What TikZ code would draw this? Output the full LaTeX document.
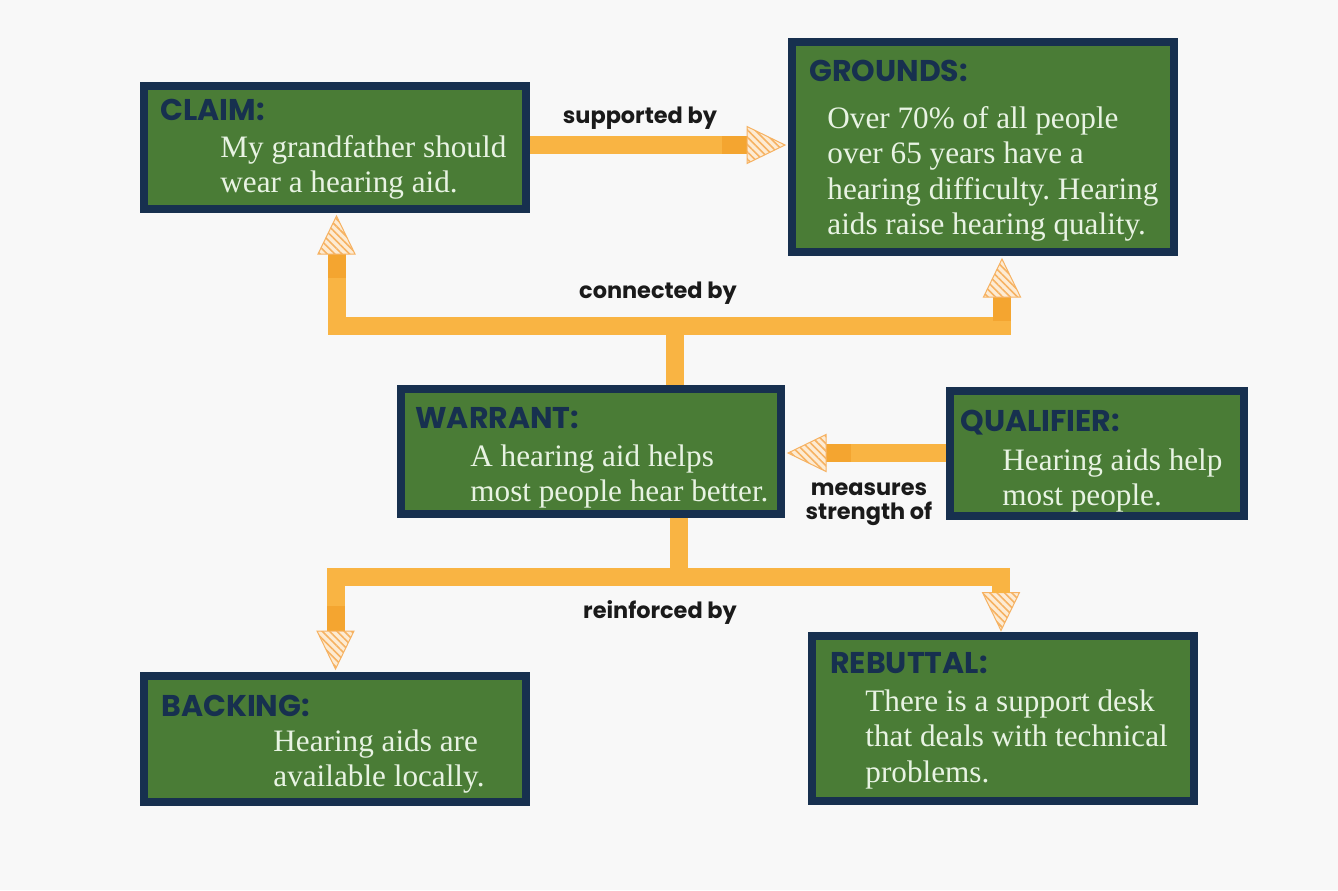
\documentclass[tikz,border=0pt]{standalone}
\usepackage{fontspec}
\setmainfont{Liberation Serif}
\newfontfamily\headfont{Poppins}
\usetikzlibrary{calc,patterns.meta}
\frenchspacing

\definecolor{canvas}{HTML}{F8F8F8}
\definecolor{boxgreen}{HTML}{4A7C36}
\definecolor{boxnavy}{HTML}{17304F}
\definecolor{bodytext}{HTML}{E8F3E3}
\definecolor{flow}{HTML}{F9B443}
\definecolor{flowdark}{HTML}{F4A530}
\definecolor{headfill}{HTML}{FDEBD3}
\definecolor{hatch}{HTML}{F6B262}
\definecolor{labeltext}{HTML}{1A1A1A}

% multi-line text whose reference point is the first baseline
\newcommand\textlines[2][l]{\begin{tabular}[t]{@{}#1@{}}#2\end{tabular}}

% darker band plus hatched triangular tip; #1 tip point, #2 direction, #3 band length
\newcommand\flowtip[3]{%
  \begin{scope}[shift={(#1)}, rotate=#2]
    \fill[flowdark] (-38-#3,-9) rectangle (-38,9);
    \path[tiphead] (0,0) -- (-38,18.5) -- (-38,-18.5) -- cycle;
  \end{scope}}

\tikzset{
  card/.style={draw=boxnavy, line width=4pt, fill=boxgreen, inner sep=0pt},
  cardtitle/.style={anchor=base west, inner sep=0pt, text=boxnavy,
    font=\headfont\bfseries\fontsize{15}{18}\selectfont},
  cardbody/.style={anchor=base west, inner sep=0pt, text=bodytext,
    font=\fontsize{15.6}{17.7}\selectfont},
  flowline/.style={draw=flow, line width=9pt, line join=miter, line cap=butt},
  tiphead/.style={draw=hatch, line width=0.5pt, preaction={fill=headfill},
    pattern={Lines[angle=-45,distance=2.6pt,line width=0.8pt]}, pattern color=hatch},
  flowlabel/.style={anchor=base, inner sep=0pt, text=labeltext,
    font=\headfont\bfseries\fontsize{11.2}{11.8}\selectfont},
}

\begin{document}
\begin{tikzpicture}[x=0.5pt,y=-0.5pt]
  \fill[canvas] (0,0) rectangle (1338,890);
  \useasboundingbox (0,0) rectangle (1338,890);

  % cards
  \node[card, minimum width=191pt, minimum height=61.5pt] (claim)     at (335,147.5) {};
  \node[card, minimum width=191pt, minimum height=105pt]  (grounds)   at (983,147)   {};
  \node[card, minimum width=190pt, minimum height=62.5pt] (warrant)   at (591,451.5) {};
  \node[card, minimum width=147pt, minimum height=62.5pt] (qualifier) at (1097,453.5){};
  \node[card, minimum width=191pt, minimum height=63pt]   (backing)   at (335,739)   {};
  \node[card, minimum width=191pt, minimum height=82.5pt] (rebuttal)  at (1003,718.5){};

  % card titles and texts
  \node[cardtitle] (claimT) at (160,120.5) {CLAIM:};
  \node[cardbody]  (claimB) at (220,157) {\textlines{My grandfather should\\wear a hearing aid.}};

  \node[cardtitle] (groundsT) at (809,81.5) {GROUNDS:};
  \node[cardbody]  (groundsB) at (827,128.5) {\textlines{Over 70\% of all people\\over 65 years have a\\hearing difficulty. Hearing\\aids raise hearing quality.}};

  \node[cardtitle] (warrantT) at (415,428) {WARRANT:};
  \node[cardbody]  (warrantB) at (470,466) {\textlines{A hearing aid helps\\most people hear better.}};

  \node[cardtitle] (qualifierT) at (960,431) {QUALIFIER:};
  \node[cardbody]  (qualifierB) at (1002,470) {\textlines{Hearing aids help\\most people.}};

  \node[cardtitle] (backingT) at (161,716.5) {BACKING:};
  \node[cardbody]  (backingB) at (273,751.5) {\textlines{Hearing aids are\\available locally.}};

  \node[cardtitle] (rebuttalT) at (830,673) {REBUTTAL:};
  \node[cardbody]  (rebuttalB) at (865,711.5) {\textlines{There is a support desk\\that deals with technical\\problems.}};

  % connector anchor points
  \coordinate (supTip)  at ($(grounds.west |- claim.east)+(-3,-2.5)$);
  \coordinate (clmTip)  at ($(claim.south)+(1.5,3)$);
  \coordinate (grdTip)  at ($(grounds.south)+(19,3)$);
  \coordinate (wTop)    at ($(warrant.north west)+(278,0)$);
  \coordinate (wBot)    at ($(warrant.south west)+(282,0)$);
  \coordinate (qualTip) at ($(warrant.east)+(3,1.5)$);
  \coordinate (bckTip)  at ($(backing.north)+(0.5,-3)$);
  \coordinate (rebTip)  at ($(rebuttal.north)+(-2,-1.5)$);

  % supported by
  \draw[flowline] (claim.east |- supTip) -- ($(supTip)+(-38,0)$);
  \flowtip{supTip}{0}{25}
  \node[flowlabel] (supL) at (640,123) {supported by};

  % connected by
  \draw[flowline] ($(clmTip)+(0,38)$) |- ($(grdTip)+(0,67)$) -- ($(grdTip)+(0,37)$);
  \draw[flowline] (wTop) -- (wTop |- 0,325);
  \flowtip{clmTip}{90}{24}
  \flowtip{grdTip}{90}{24}
  \node[flowlabel] (conL) at (658,298) {connected by};

  % measures strength of
  \draw[flowline] (qualifier.west |- qualTip) -- ($(qualTip)+(38,0)$);
  \flowtip{qualTip}{180}{25}
  \node[flowlabel] (meaL) at (869,495) {\textlines[c]{measures\\strength of}};

  % reinforced by
  \draw[flowline] (wBot) -- (wBot |- 0,577);
  \flowtip{rebTip}{270}{7}
  \draw[flowline] ($(bckTip)+(0,-38)$) |- ($(rebTip)+(0,-54)$) -- ($(rebTip)+(0,-38)$);
  \flowtip{bckTip}{270}{25}
  \node[flowlabel] (reiL) at (660,618) {reinforced by};
\end{tikzpicture}
\end{document}
